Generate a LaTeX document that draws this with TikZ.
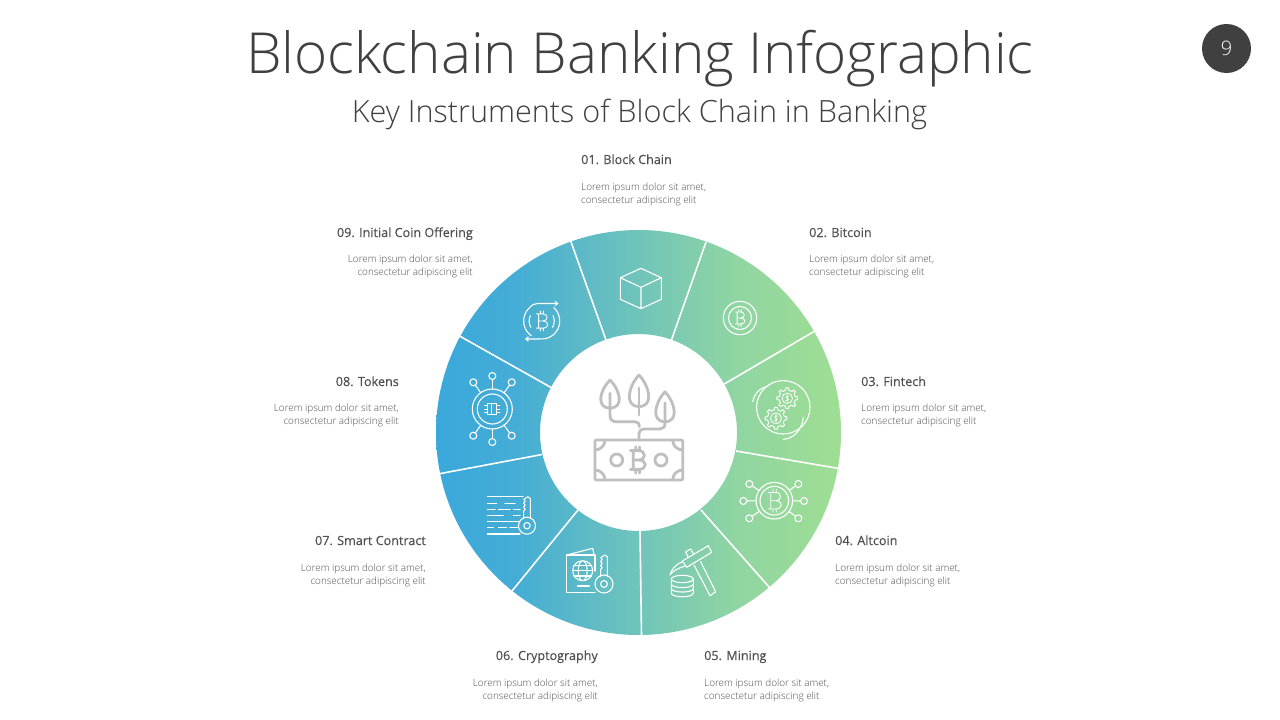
\documentclass[tikz,border=0pt]{standalone}
\usepackage{fontspec}
\setmainfont{Open Sans}
\newfontfamily\lightf{Open Sans Light}
\newfontfamily\medf[FakeBold=0.25]{Open Sans}
\usetikzlibrary{arrows.meta,calc}
\definecolor{ink}{HTML}{404040}
\definecolor{txt}{HTML}{505050}
\definecolor{grayicon}{HTML}{BFBFBF}
\definecolor{ringa}{HTML}{3AA8DB}
\definecolor{ringb}{HTML}{45ADD5}
\definecolor{ringc}{HTML}{70C4BA}
\definecolor{ringd}{HTML}{90D5A2}
\definecolor{ringe}{HTML}{9FDE93}
\pgfdeclarehorizontalshading{ringshade}{100bp}{
 color(0bp)=(ringa); color(25bp)=(ringa); color(35bp)=(ringb); color(50bp)=(ringc); color(62bp)=(ringd); color(75bp)=(ringe); color(100bp)=(ringe)}
\tikzset{
 headL/.style={anchor=base west,inner sep=0pt,text=txt,font=\medf\fontsize{12.6}{14}\selectfont},
 headR/.style={anchor=base east,inner sep=0pt,text=txt,font=\medf\fontsize{12.6}{14}\selectfont},
 bodyL/.style={anchor=west,inner sep=0pt,align=left,text=txt,font=\lightf\fontsize{9.9}{13}\selectfont},
 bodyR/.style={anchor=east,inner sep=0pt,align=right,text=txt,font=\lightf\fontsize{9.9}{13}\selectfont},
 ic/.style={draw=white,line width=1.1pt,line join=round,line cap=round},
 gi/.style={draw=grayicon,line width=2.8pt,line join=round,line cap=round},
 seam/.style={draw=white,line width=1.6pt},
 barb/.style={-{Straight Barb[length=2.6pt,width=4.4pt]}},
}
\newcommand{\btcglyph}[4]{%
 \begin{scope}[shift={(#1,#2)},scale=#3]
  \draw[#4] (-.55,-.75) -- (.1,-.75) .. controls (.72,-.75) and (.72,0) .. (.1,0) -- (-.32,0)
    (.1,0) .. controls (.82,0) and (.82,.75) .. (.1,.75) -- (-.55,.75)
    (-.32,-.75) -- (-.32,.75)
    (-.12,-.75) -- (-.12,-1.05) (.18,-.75) -- (.18,-1.05)
    (-.12,.75) -- (-.12,1.05) (.18,.75) -- (.18,1.05);
 \end{scope}}
\newcommand{\gearicon}[3]{%
 \begin{scope}[shift={(#1,#2)}]
  \draw[ic,line width=.95pt] (-12:.78*#3) \foreach \a in {0,45,...,315} { -- (\a-12:.78*#3) -- (\a-7:#3) -- (\a+7:#3) -- (\a+12:.78*#3) } -- cycle;
  \draw[ic,line width=.8pt] (0,0) circle[radius=.5*#3];
  \draw[ic,line width=.6pt] (.2*#3,-.2*#3) .. controls (0,-.32*#3) and (-.25*#3,-.2*#3) .. (-.1*#3,-.05*#3) .. controls (.25*#3,.05*#3) and (.15*#3,.3*#3) .. (-.2*#3,.2*#3) (0,-.36*#3) -- (0,.36*#3);
 \end{scope}}
\newcommand{\leaficon}[4]{%
 \draw[gi] (#1,#2) .. controls ({#1+#4*1.0},{#2+.35*#3}) and ({#1+#4*1.45},{#2+#3}) .. (#1,{#2+#3})
   .. controls ({#1-#4*1.45},{#2+#3}) and ({#1-#4*1.0},{#2+.35*#3}) .. (#1,#2);}
\newcommand{\keyicon}[3]{%
 \begin{scope}[shift={(#1,#2)}]
  \draw[ic] (0,0) circle[radius=#3];
  \draw[ic] (0,0) circle[radius=.38*#3];
  \draw[ic] (3.4,{-.85*#3}) -- (3.4,-27) -- (1,-29) -- (-3.2,-26.5) -- (-1.8,-24.5) -- (-3.4,-22.5) -- (-1.8,-20.5) -- (-3.4,-18.5) -- (-1.8,-16.5) -- (-3.4,-14.5) -- (-3.4,{-.85*#3});
 \end{scope}}
\newcommand{\arcp}[6][]{\draw[ic,#1] plot[domain=#5:#6,samples=30] ({#2+#4*cos(\x)},{#3+#4*sin(\x)});}
\newcommand{\spoke}[5]{% hub x,y, ring radius, tip x,y
  \draw[ic] (#4,#5) circle[radius=3.5];
  \draw[ic] ($(#1,#2)!#3pt!(#4,#5)$) -- ($(#4,#5)!3.5pt!(#1,#2)$);}
\begin{document}
\begin{tikzpicture}[x=1pt,y=-1pt]
\useasboundingbox (0,0) rectangle (1280,720);
\fill[white] (0,0) rectangle (1280,720);
% titles
\node[anchor=base,inner sep=0pt,text=ink,font=\lightf\fontsize{56.6}{60}\selectfont] (title) at (640,73) {Blockchain Banking Infographic};
\node[anchor=base,inner sep=0pt,text=ink,font=\lightf\fontsize{30.6}{34}\selectfont] (subtitle) at (639.5,122) {Key Instruments of Block Chain in Banking};
\node[circle,fill=ink,minimum size=49pt,inner sep=0pt,text=white,font=\lightf\fontsize{20}{22}\selectfont] (badge) at (1226.5,48.5) {9};
% ring
\coordinate (c) at (638.5,432.5);
\shade[even odd rule,shading=ringshade] (c) circle[radius=202.5] (c) circle[radius=98.5];
\draw[seam] (606,340) -- (570.7,241);
\draw[seam] (671.5,340) -- (706,242);
\draw[seam] (724.3,384) -- (814,331.5);
\draw[seam] (736,451) -- (839,468.5);
\draw[seam] (701,510) -- (769.5,587.5);
\draw[seam] (640,531) -- (641.5,636);
\draw[seam] (578,510) -- (512,591);
\draw[seam] (542,454.5) -- (438,474);
\draw[seam] (552,388) -- (459.5,336);
% labels
\node[headL] (h1) at (581,164) {01. Block Chain};
\node[bodyL] (b1) at (581,194.5) {Lorem ipsum dolor sit amet,\\consectetur adipiscing elit};
\node[headL] (h2) at (809,237) {02. Bitcoin};
\node[bodyL] (b2) at (809,266.5) {Lorem ipsum dolor sit amet,\\consectetur adipiscing elit};
\node[headL] (h3) at (861,386) {03. Fintech};
\node[bodyL] (b3) at (861,415.5) {Lorem ipsum dolor sit amet,\\consectetur adipiscing elit};
\node[headL] (h4) at (835,545) {04. Altcoin};
\node[bodyL] (b4) at (835,575.5) {Lorem ipsum dolor sit amet,\\consectetur adipiscing elit};
\node[headL] (h5) at (704,660) {05. Mining};
\node[bodyL] (b5) at (704,690.5) {Lorem ipsum dolor sit amet,\\consectetur adipiscing elit};
\node[headR] (h6) at (598,660) {06. Cryptography};
\node[bodyR] (b6) at (598,690.5) {Lorem ipsum dolor sit amet,\\consectetur adipiscing elit};
\node[headR] (h7) at (426,545) {07. Smart Contract};
\node[bodyR] (b7) at (426,575.5) {Lorem ipsum dolor sit amet,\\consectetur adipiscing elit};
\node[headR] (h8) at (399,386) {08. Tokens};
\node[bodyR] (b8) at (399,415.5) {Lorem ipsum dolor sit amet,\\consectetur adipiscing elit};
\node[headR] (h9) at (473,237) {09. Initial Coin Offering};
\node[bodyR] (b9) at (473,266.5) {Lorem ipsum dolor sit amet,\\consectetur adipiscing elit};
% 01 cube
\draw[ic] (641,268.3) -- (661.3,277.7) -- (661.3,299.3) -- (641,308.7) -- (620.3,299.3) -- (620.3,277.7) -- cycle
  (620.3,277.7) -- (641,287.3) -- (661.3,277.7) (641,287.3) -- (641,308.7);
% 02 bitcoin
\draw[ic] (740,318) circle[radius=16.7] (740,318) circle[radius=11.5];
\btcglyph{739.7}{318}{8}{ic,line width=.85pt}
% 03 fintech
\draw[ic] (783.3,407.3) circle[radius=26.7];
\draw[ic] (752.7,401.7) .. controls (754.5,393) and (760,388) .. (768.3,386);
\draw[ic] (783.3,439.3) .. controls (793,439) and (802,430) .. (803.3,417.7);
\gearicon{787.3}{398.3}{10.5}
\gearicon{776}{418.3}{11}
% 04 altcoin
\draw[ic] (774.3,500.7) circle[radius=18.3] (774.3,500.7) circle[radius=14.3];
\btcglyph{774.3}{500.7}{11}{ic,line width=.9pt}
\spoke{774.3}{500.7}{18.3}{749.3}{484}
\spoke{774.3}{500.7}{18.3}{798.3}{484}
\spoke{774.3}{500.7}{18.3}{743.3}{501}
\spoke{774.3}{500.7}{18.3}{804}{501}
\spoke{774.3}{500.7}{18.3}{749.3}{518.3}
\spoke{774.3}{500.7}{18.3}{798.3}{518.3}
% 05 mining
\draw[ic] (682.3,579) circle[x radius=11,y radius=3.7];
\draw[ic] (671.3,579) -- (671.3,593) .. controls (671.3,598) and (693.3,598) .. (693.3,593) -- (693.3,579);
\draw[ic] (671.3,584) .. controls (671.3,588.7) and (693.3,588.7) .. (693.3,584);
\draw[ic] (671.3,588.5) .. controls (671.3,593.2) and (693.3,593.2) .. (693.3,588.5);
\draw[ic] (682.3,561) -- (708.3,545.7) -- (711.7,552.3) -- (686.7,567.3) -- cycle;
\draw[ic] (685.7,551.7) -- (690.7,549) -- (693.3,553.5) (688.3,557.7) -- (685.7,551.7);
\draw[ic] (694,565) -- (710,595.7) -- (715.7,591.7) -- (700.7,561.7);
\draw[ic] (682.3,561.7) .. controls (676,564) and (671,570) .. (670,575) .. controls (673,571) and (678,568) .. (685,566);
% 06 cryptography
\draw[ic] (595,571) -- (595,555) -- (566.7,555) -- (566.7,592.7) -- (595,592.7);
\draw[ic] (566.7,555) -- (592.7,548.3) -- (594,555);
\draw[ic] (582.7,570.7) circle[radius=10] (582.7,570.7) circle[x radius=4.5,y radius=10];
\draw[ic] (572.7,570.7) -- (592.7,570.7) (574,565.5) -- (591.4,565.5) (574,576) -- (591.4,576);
\draw[ic] (577.3,586) -- (589.3,586);
\keyicon{604}{584}{9}
% 07 smart contract
\draw[ic] (487.3,496.7) -- (523,496.7)
 (487.3,503.3) -- (496.7,503.3) (505,503.3) -- (515,503.3)
 (487.3,509.3) -- (495,509.3) (498.3,509.3) -- (510,509.3) (513.3,509.3) -- (520,509.3)
 (487.3,515.7) -- (503.3,515.7) (513.3,515.7) -- (520,515.7)
 (487.3,521.7) -- (519,521.7)
 (487.3,527.7) -- (493.3,527.7) (498.3,527.7) -- (506.7,527.7) (510,527.7) -- (518.3,527.7)
 (487.3,534) -- (520,534);
\keyicon{527}{525.7}{8.5}
% 08 tokens
\draw[ic] (492.3,409) circle[radius=20] (492.3,409) circle[radius=15];
\draw[ic] (487.7,403.5) rectangle (496.7,414.5);
\draw[ic] (491.5,403.5) -- (491.5,414.5);
\draw[ic,line width=.8pt] (484.5,405.5) -- (487.7,405.5) (484.5,409) -- (487.7,409) (484.5,412.5) -- (487.7,412.5)
  (496.7,405.5) -- (500,405.5) (496.7,409) -- (500,409) (496.7,412.5) -- (500,412.5);
\spoke{492.3}{409}{20}{473.3}{382.3}
\spoke{492.3}{409}{20}{492.3}{376}
\spoke{492.3}{409}{20}{511.7}{382.3}
\spoke{492.3}{409}{20}{473.3}{435.7}
\spoke{492.3}{409}{20}{492.3}{442}
\spoke{492.3}{409}{20}{511.7}{435.7}
% 09 initial coin offering
\arcp{541.7}{321}{18}{125}{228}
\arcp{541.7}{321}{18}{-48}{75}
\draw[ic,barb] (529.6,307.6) .. controls (532,304.5) and (535,303.5) .. (538,303.5) -- (558.5,303.5);
\draw[ic,barb] (546.4,338.4) .. controls (544,339) and (541,339) .. (525,339);
\arcp{541.7}{321}{12.5}{150}{205}
\arcp{541.7}{321}{12.5}{-25}{30}
\btcglyph{541.7}{321}{9.5}{ic,line width=.85pt}
% centre icon
\leaficon{610}{380}{28}{10}
\leaficon{639}{375}{31.5}{10.5}
\leaficon{665}{391.7}{30}{10}
\draw[gi] (610,393.3) -- (610,415) .. controls (610,419.5) and (612,421.7) .. (615,421.7) -- (635,421.7) .. controls (638,421.7) and (639.3,423.5) .. (639.3,426.7);
\draw[gi] (639,388) -- (639,415);
\draw[gi] (665,403) -- (665,423) .. controls (665,427) and (663,429) .. (660,429) -- (645,429) .. controls (641,429) and (639,431) .. (639,433.3) -- (639,440);
\draw[gi,rounded corners=1pt] (595,440) rectangle (682.7,480);
\draw[gi] (595,450) .. controls (600.5,450) and (605,445.5) .. (605,440)
  (672.7,440) .. controls (672.7,445.5) and (677,450) .. (682.7,450)
  (595,470) .. controls (600.5,470) and (605,474.5) .. (605,480)
  (672.7,480) .. controls (672.7,474.5) and (677,470) .. (682.7,470);
\draw[gi] (616.7,460) circle[radius=6] (661,460) circle[radius=6];
\btcglyph{637.3}{460}{12.5}{gi}
\end{tikzpicture}
\end{document}
